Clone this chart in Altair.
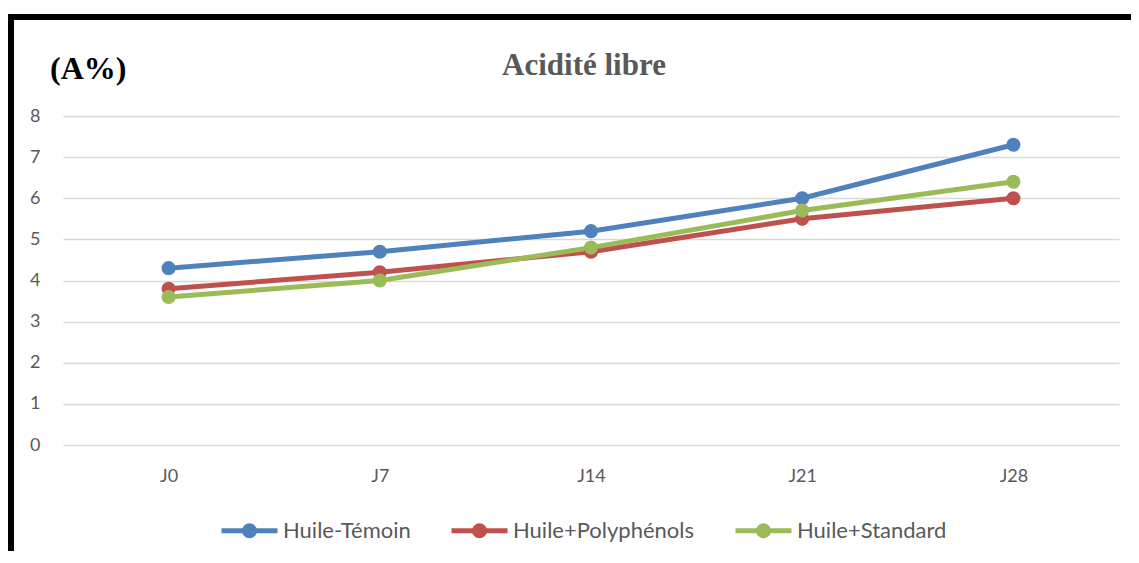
import altair as alt
import pandas as pd

days = ["J0", "J7", "J14", "J21", "J28"]
series_names = ["Huile-Témoin", "Huile+Polyphénols", "Huile+Standard"]
temoin = [4.3, 4.7, 5.2, 6.0, 7.3]
polyphenols = [3.8, 4.2, 4.7, 5.5, 6.0]
standard = [3.6, 4.0, 4.8, 5.7, 6.4]
colors = ["#4F81BD", "#C0504D", "#9BBB59"]
y_ticks = [0, 1, 2, 3, 4, 5, 6, 7, 8]
title_text = "Acidité libre"
unit_text = "(A%)"

rows = []
for name, vals in zip(series_names, [temoin, polyphenols, standard]):
    for d, v in zip(days, vals):
        rows.append({"Jour": d, "Série": name, "A": v})
df = pd.DataFrame(rows)

W, H = 1056, 329
label_font = "Lato"

legend_symbol = "M-1,0L1,0M0.18,0A0.18,0.18,0,1,1,-0.18,0A0.18,0.18,0,1,1,0.18,0"

lines = alt.Chart(df).mark_line(
    strokeWidth=5,
    point=alt.OverlayMarkDef(filled=True, size=200, opacity=1),
).encode(
    x=alt.X("Jour:N", sort=days, scale=alt.Scale(padding=0.5),
            axis=alt.Axis(title=None, labelAngle=0, domain=False, ticks=False,
                          labelPadding=22, labelFont=label_font, labelFontSize=18,
                          labelColor="#595959")),
    y=alt.Y("A:Q", scale=alt.Scale(domain=[0, 8], nice=False),
            axis=alt.Axis(title=None, values=y_ticks, domain=False, ticks=False,
                          grid=True, gridColor="#d9d9d9", gridWidth=1.5,
                          labelPadding=23, labelFont=label_font, labelFontSize=18,
                          labelColor="#595959")),
    color=alt.Color("Série:N", sort=series_names,
                    scale=alt.Scale(domain=series_names, range=colors),
                    legend=alt.Legend(title=None, orient="none", direction="horizontal",
                                      legendX=156, legendY=384,
                                      symbolType=legend_symbol, symbolSize=3136,
                                      symbolStrokeWidth=5, labelFont=label_font,
                                      labelFontSize=22, labelColor="#595959",
                                      labelLimit=400,
                                      labelOffset=3, columnPadding=30)),
)

one = pd.DataFrame({"k": [0]})
frame = alt.Chart(one).mark_rect(fill=None, stroke="black", strokeWidth=6).encode(
    x=alt.value(-52), x2=alt.value(1200), y=alt.value(-99), y2=alt.value(600)
)
title = alt.Chart(one).mark_text(
    text=title_text, font="Liberation Serif", fontSize=31, fontWeight="bold",
    color="#595959", align="center", baseline="alphabetic"
).encode(x=alt.value(521), y=alt.value(-41))
unit = alt.Chart(one).mark_text(
    text=unit_text, font="Liberation Serif", fontSize=32, fontWeight="bold",
    color="black", align="left", baseline="alphabetic"
).encode(x=alt.value(-13), y=alt.value(-37))

chart = alt.layer(lines, frame, title, unit).properties(
    width=W, height=H,
    autosize=alt.AutoSizeParams(type="none"),
    padding={"left": 55, "top": 108, "right": 12, "bottom": 106},
).configure_view(stroke=None)

chart.save("out.html", embed_options={"renderer": "svg", "actions": False})
